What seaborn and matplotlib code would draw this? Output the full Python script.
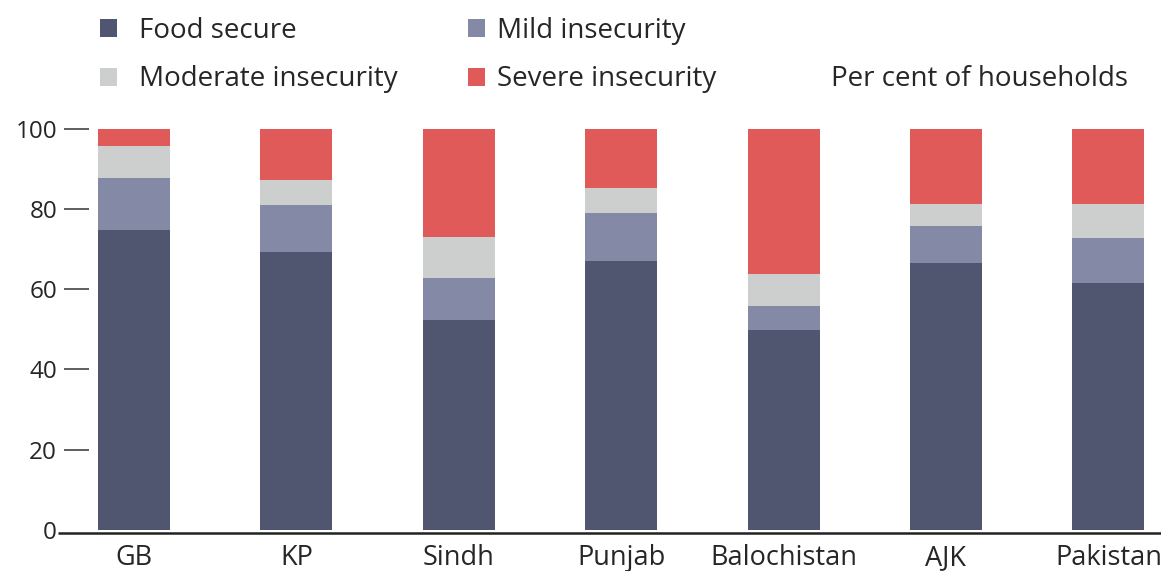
import numpy as np
import pandas as pd
import matplotlib
matplotlib.use("Agg")
import matplotlib.pyplot as plt
import seaborn as sns
from matplotlib.patches import Patch

# Household food insecurity by region (per cent of households)
regions = ["GB", "KP", "Sindh", "Punjab", "Balochistan", "AJK", "Pakistan"]
food_secure = [74.7, 69.3, 52.3, 67.0, 49.8, 66.6, 61.5]
mild_insecurity = [13.1, 11.6, 10.4, 11.9, 6.0, 9.2, 11.3]
moderate_insecurity = [8.0, 6.3, 10.4, 6.4, 8.1, 5.4, 8.4]
severe_insecurity = [4.2, 12.8, 26.9, 14.7, 36.1, 18.8, 18.8]

series_names = ["Food secure", "Mild insecurity", "Moderate insecurity", "Severe insecurity"]
series_colors = ["#50566F", "#8489A5", "#CDCECE", "#E05A5A"]
y_ticks = [0, 20, 40, 60, 80, 100]

sns.set_theme(style="white")
plt.rcParams["font.family"] = ["Open Sans", "DejaVu Sans"]
TEXT = "#262626"

W, H = 1161, 571
fig = plt.figure(figsize=(W / 100, H / 100), dpi=100)
fig.patch.set_facecolor("white")

ax_left, ax_bottom, ax_top = 89, 532.8, 124.7
ax = fig.add_axes([ax_left / W, (H - ax_bottom) / H, (W - ax_left) / W, (ax_bottom - ax_top) / H])

# Stack the series by drawing cumulative totals, tallest first
stack = np.cumsum([food_secure, mild_insecurity, moderate_insecurity, severe_insecurity], axis=0)
df = pd.DataFrame({"region": regions})
for name, top in zip(series_names, stack):
    df[name] = top

for name, color in reversed(list(zip(series_names, series_colors))):
    sns.barplot(data=df, x="region", y=name, order=regions, color=color,
                saturation=1, width=0.443, errorbar=None, linewidth=0, ax=ax)

ax.set_xlim(-0.277, 6.324)
ax.set_ylim(-0.7, 101)
ax.set_xlabel("")
ax.set_ylabel("")
for s in ax.spines.values():
    s.set_visible(False)

# Baseline extending a little to the left of the plotting area
ax.plot([(58 - ax_left) / (W - ax_left), 1.0], [-0.7, -0.7], transform=ax.get_yaxis_transform(),
        color="#222222", lw=1.8, clip_on=False, solid_capstyle="butt")

ax.set_yticks(y_ticks)
ax.set_yticklabels([str(v) for v in y_ticks])
ax.tick_params(axis="y", length=18, width=1.1, color="#333333", pad=5,
               labelsize=17.5, labelcolor=TEXT, left=True)
ax.yaxis.get_major_ticks()[0].tick1line.set_visible(False)
ax.tick_params(axis="x", length=0, pad=8, labelsize=19.5, labelcolor=TEXT)

fs = 20
h_col1 = [Patch(facecolor=series_colors[0], edgecolor="none", label=series_names[0]),
          Patch(facecolor=series_colors[2], edgecolor="none", label=series_names[2])]
h_col2 = [Patch(facecolor=series_colors[1], edgecolor="none", label=series_names[1]),
          Patch(facecolor=series_colors[3], edgecolor="none", label=series_names[3])]
common = dict(loc="center left", frameon=False, fontsize=fs, handlelength=0.62,
              handleheight=0.62, labelspacing=0.75, borderpad=0, borderaxespad=0,
              labelcolor=TEXT)
leg1 = fig.legend(handles=h_col1, bbox_to_anchor=(100 / W, 1 - 55 / H), handletextpad=0.8, **common)
leg2 = fig.legend(handles=h_col2, bbox_to_anchor=(468 / W, 1 - 55 / H), handletextpad=0.42, **common)

fig.text(831 / W, 1 - 79 / H, "Per cent of households", ha="left", va="center",
         fontsize=fs, color=TEXT)

fig.savefig("out.png", dpi=100, facecolor="white")
